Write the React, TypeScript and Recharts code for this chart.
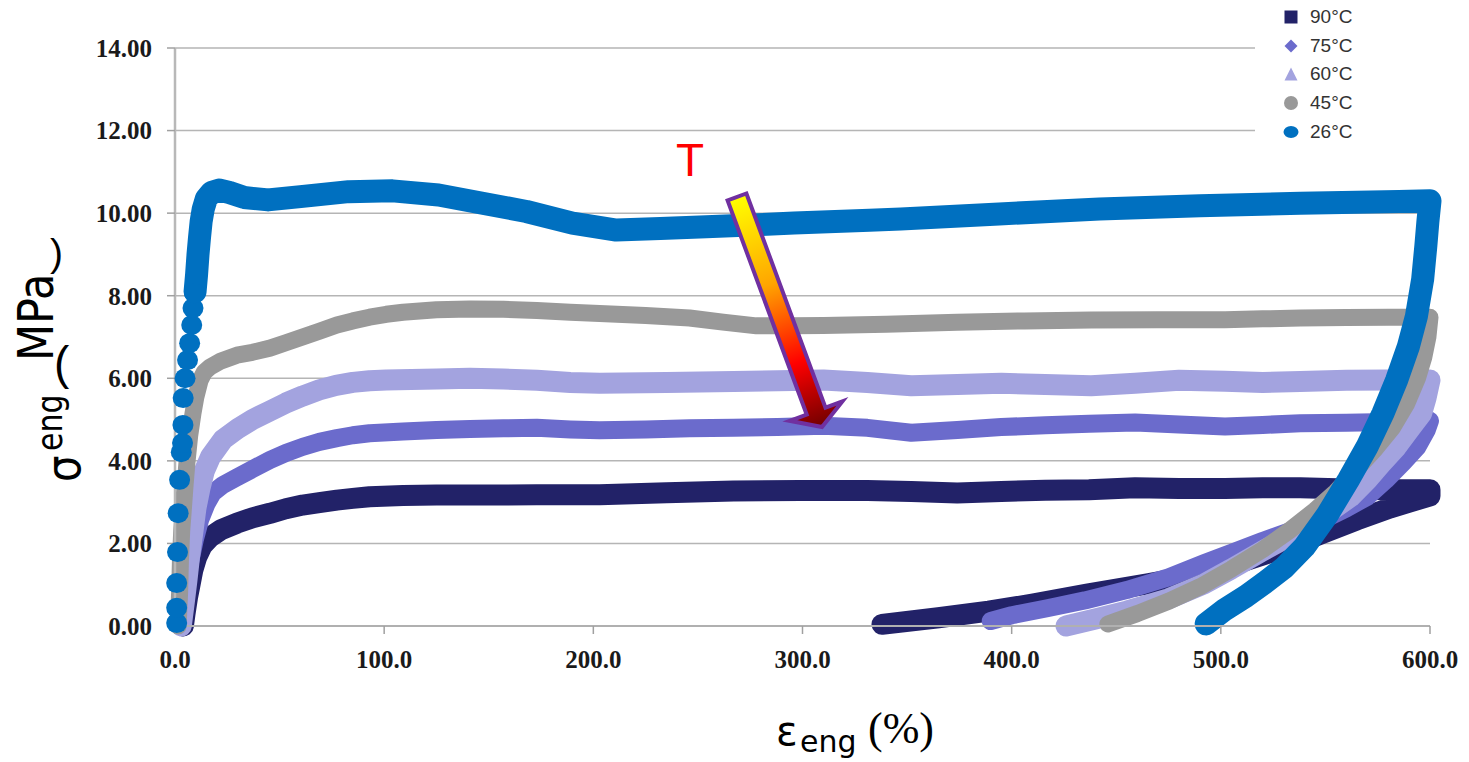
import React from 'react';
import { ComposedChart, Line, Scatter, XAxis, YAxis, CartesianGrid, Legend } from 'recharts';

// ---------- data ----------
const legendLabels = ['90°C', '75°C', '60°C', '45°C', '26°C'];
const seriesColors = ['#222268', '#6b6bcc', '#a3a3df', '#999999', '#0070c0'];
const markerShapes = ['square', 'diamond', 'triangle', 'circle', 'ellipse'];

const xTicks = [0, 100, 200, 300, 400, 500, 600];
const yTicks = [0, 2, 4, 6, 8, 10, 12, 14];

const strain90 = [4, 4.8, 6, 7, 8.5, 10.4, 13, 16.7, 22, 29.6, 37, 45.4, 53, 61, 69, 77.4, 85, 93, 109, 125, 141, 157, 173, 189, 203, 235, 267, 299, 331, 352, 374, 395, 416, 437, 459, 480, 502, 520, 538, 560, 580, 600,
  600, 590, 581, 565, 549, 535, 520, 505, 492, 465, 436, 410, 389, 365, 338];
const stress90 = [0, 0.3, 0.7, 0.95, 1.35, 1.67, 1.95, 2.15, 2.33, 2.49, 2.62, 2.73, 2.84, 2.93, 2.99, 3.05, 3.09, 3.13, 3.16, 3.17, 3.17, 3.17, 3.18, 3.18, 3.18, 3.23, 3.27, 3.28, 3.28, 3.26, 3.22, 3.26, 3.29, 3.3, 3.35, 3.33, 3.33, 3.35, 3.35, 3.32, 3.3, 3.3,
  3.15, 3.0, 2.86, 2.57, 2.25, 1.97, 1.72, 1.47, 1.27, 1.02, 0.77, 0.53, 0.36, 0.2, 0.04];

const strain75 = [3, 3.8, 5, 7, 9.5, 12, 15, 18, 23, 29.6, 37, 45.4, 53, 61, 69, 77.4, 85, 93, 109, 125, 141, 157, 173, 189, 203, 225, 246, 267, 288, 310, 331, 352, 374, 395, 416, 437, 459, 480, 502, 520, 538, 560, 580, 600,
  598.5, 594, 587, 579, 570, 560, 550, 535, 520, 505, 492, 475, 455, 435, 417, 400, 390];
const stress75 = [0, 0.3, 0.9, 1.5, 2.1, 2.57, 2.95, 3.22, 3.42, 3.6, 3.8, 4.02, 4.19, 4.34, 4.46, 4.55, 4.62, 4.67, 4.71, 4.75, 4.77, 4.79, 4.8, 4.76, 4.74, 4.76, 4.79, 4.8, 4.82, 4.85, 4.8, 4.68, 4.75, 4.82, 4.86, 4.9, 4.93, 4.88, 4.83, 4.87, 4.91, 4.92, 4.94, 4.97,
  4.75, 4.34, 3.95, 3.54, 3.13, 2.85, 2.6, 2.33, 2.06, 1.77, 1.52, 1.18, 0.87, 0.62, 0.43, 0.26, 0.12];

const strain60 = [3, 4.5, 5.7, 7, 8.6, 10, 12, 14, 17, 23, 30, 37, 45, 53, 61, 69, 77, 85, 93, 101, 125, 141, 157, 173, 189, 203, 235, 267, 288, 310, 331, 352, 374, 395, 416, 438, 459, 480, 502, 520, 538, 560, 580, 600,
  598, 596, 590, 584, 577, 570, 562, 550, 539, 520, 505, 492, 475, 455, 440, 426];
const stress60 = [0, 0.6, 1.1, 1.7, 2.3, 2.85, 3.35, 3.75, 4.1, 4.52, 4.78, 5.0, 5.2, 5.4, 5.57, 5.72, 5.83, 5.9, 5.94, 5.96, 5.98, 6.0, 5.98, 5.95, 5.9, 5.88, 5.9, 5.92, 5.94, 5.96, 5.9, 5.82, 5.85, 5.88, 5.85, 5.82, 5.88, 5.95, 5.93, 5.9, 5.92, 5.95, 5.96, 5.96,
  5.5, 5.15, 4.75, 4.34, 3.95, 3.54, 3.13, 2.7, 2.35, 1.82, 1.38, 1.02, 0.66, 0.36, 0.17, 0];

const strain45 = [1.5, 2.2, 2.6, 3.2, 3.8, 4.8, 5.7, 7, 8.6, 10, 12, 14, 16.7, 22, 29.6, 37, 45.4, 53, 61, 69, 77.4, 85, 93, 101, 109, 125, 141, 157, 173, 189, 203, 225, 246, 262, 278, 295, 310, 340, 374, 406, 438, 470, 502, 520, 538, 560, 580, 600,
  599, 597, 594, 589, 582, 574, 565, 555, 545, 533, 520, 505, 490, 475, 460, 446];
const stress45 = [0, 0.8, 1.6, 2.3, 2.7, 3.4, 3.95, 4.6, 5.15, 5.55, 5.95, 6.15, 6.27, 6.42, 6.56, 6.63, 6.73, 6.86, 7.0, 7.14, 7.29, 7.39, 7.48, 7.55, 7.6, 7.66, 7.68, 7.67, 7.64, 7.6, 7.57, 7.52, 7.46, 7.36, 7.27, 7.27, 7.28, 7.31, 7.36, 7.39, 7.41, 7.42, 7.42, 7.44, 7.46, 7.47, 7.48, 7.48,
  7.0, 6.5, 6.0, 5.4, 4.8, 4.3, 3.8, 3.25, 2.8, 2.32, 1.85, 1.38, 0.95, 0.6, 0.3, 0.05];

const riseStrain26 = [0.8, 0.8, 0.8, 1.2, 1.5, 2.2, 3.0, 3.6, 3.8, 3.9, 4.8, 6.0, 7.0, 8.0, 8.6, 9.4];
const riseStress26 = [0.07, 0.44, 1.04, 1.79, 2.73, 3.54, 4.21, 4.43, 4.87, 5.52, 6.0, 6.44, 6.85, 7.29, 7.7, 8.06];
const strain26 = [9.6, 10.3, 11, 11.7, 12.5, 13.5, 15, 17.5, 21, 26, 33, 44.5, 60, 83, 104, 126, 147, 168, 190, 211, 232, 254, 275, 296, 332, 347, 394, 442, 490, 538, 585, 600,
  599, 598, 596.5, 593.5, 589.6, 584, 577.5, 570, 561, 551, 540, 530, 521, 512, 502, 493];
const stress26 = [8.1, 8.5, 9.0, 9.4, 9.8, 10.1, 10.35, 10.5, 10.56, 10.5, 10.38, 10.32, 10.4, 10.52, 10.54, 10.44, 10.24, 10.04, 9.76, 9.59, 9.63, 9.67, 9.71, 9.76, 9.83, 9.86, 9.98, 10.1, 10.18, 10.24, 10.28, 10.3,
  9.8, 9.2, 8.4, 7.5, 6.76, 5.95, 5.15, 4.35, 3.54, 2.7, 1.92, 1.4, 1.05, 0.72, 0.4, 0.05];

const toPoints = (xs: number[], ys: number[]) => xs.map((x, i) => ({ x, y: ys[i] }));

const series = [
  { data: toPoints(strain90, stress90), width: 21 },
  { data: toPoints(strain75, stress75), width: 18 },
  { data: toPoints(strain60, stress60), width: 21 },
  { data: toPoints(strain45, stress45), width: 17 },
];
const rise26 = toPoints(riseStrain26, riseStress26);
const main26 = toPoints(strain26, stress26);

// ---------- legend ----------
const Marker = ({ shape, color }: { shape: string; color: string }) => {
  if (shape === 'square') return <rect x={1.5} y={1.5} width={13} height={13} fill={color} />;
  if (shape === 'diamond') return <polygon points="8,1.5 14.5,8 8,14.5 1.5,8" fill={color} />;
  if (shape === 'triangle') return <polygon points="8,1.5 14.5,14.5 1.5,14.5" fill={color} />;
  if (shape === 'circle') return <circle cx={8} cy={8} r={7} fill={color} />;
  return <ellipse cx={8} cy={8} rx={7.5} ry={6} fill={color} />;
};

const renderLegend = () => (
  <div style={{ width: 214, height: 150, background: '#ffffff', position: 'relative' }}>
    {legendLabels.map((label, i) => (
      <div key={label} style={{ position: 'absolute', left: 28, top: 17 + i * 28.7 - 11, height: 22, display: 'flex', alignItems: 'center' }}>
        <svg width={16} height={16} style={{ display: 'block' }}>
          <Marker shape={markerShapes[i]} color={seriesColors[i]} />
        </svg>
        <span style={{ marginLeft: 11, fontFamily: '"Liberation Sans", Arial, sans-serif', fontSize: 19, color: '#333333', lineHeight: '22px' }}>{label}</span>
      </div>
    ))}
  </div>
);

const tickFont = { fill: '#1a1a1a', fontSize: 25, fontWeight: 700, fontFamily: '"Liberation Serif", "Times New Roman", serif' };

export default function App() {
  return (
    <div style={{ position: 'absolute', left: 0, top: 0, width: 1469, height: 762, overflow: 'hidden', background: '#ffffff' }}>
      <ComposedChart width={1469} height={762} margin={{ top: 48, right: 39, left: 0, bottom: 0 }}>
        <CartesianGrid vertical={false} stroke="#b5b5b5" strokeWidth={1.5} />
        <XAxis
          dataKey="x"
          type="number"
          domain={[0, 600]}
          ticks={xTicks}
          interval={0}
          height={136}
          tickSize={8}
          tickMargin={16}
          tickFormatter={(v: number) => v.toFixed(1)}
          axisLine={{ stroke: '#b0b0b0', strokeWidth: 2 }}
          tickLine={{ stroke: '#a0a0a0', strokeWidth: 1.5 }}
          tick={tickFont}
        />
        <YAxis
          type="number"
          domain={[0, 14]}
          ticks={yTicks}
          interval={0}
          width={175}
          tickSize={8}
          tickMargin={15}
          tickFormatter={(v: number) => v.toFixed(2)}
          axisLine={{ stroke: '#b8b8b8', strokeWidth: 2.5 }}
          tickLine={{ stroke: '#a0a0a0', strokeWidth: 1.5 }}
          tick={tickFont}
        />
        <Legend layout="horizontal" verticalAlign="middle" align="center" content={renderLegend}
          wrapperStyle={{ top: 0, left: 1255, width: 214, height: 150 }} />
        {series.map((s, i) => (
          <Line
            key={legendLabels[i]}
            name={legendLabels[i]}
            data={s.data}
            dataKey="y"
            type="linear"
            stroke={seriesColors[i]}
            strokeWidth={s.width}
            strokeLinejoin="round"
            strokeLinecap="round"
            dot={false}
            activeDot={false}
            isAnimationActive={false}
          />
        ))}
        <Line
          name={legendLabels[4]}
          data={main26}
          dataKey="y"
          type="linear"
          stroke={seriesColors[4]}
          strokeWidth={23}
          strokeLinejoin="round"
          strokeLinecap="round"
          dot={false}
          activeDot={false}
          isAnimationActive={false}
        />
        <Scatter
          name="26°C rise"
          data={rise26}
          dataKey="y"
          fill={seriesColors[4]}
          isAnimationActive={false}
          shape={(p: any) => <ellipse cx={p.cx} cy={p.cy} rx={10.5} ry={10} fill={seriesColors[4]} />}
        />
      </ComposedChart>

      <svg width={1469} height={762} style={{ position: 'absolute', left: 0, top: 0, pointerEvents: 'none' }}>
        <defs>
          <linearGradient id="tArrow" gradientUnits="userSpaceOnUse" x1={737} y1={197} x2={822} y2={427}>
            <stop offset="0" stopColor="#ffff00" />
            <stop offset="0.38" stopColor="#ffa500" />
            <stop offset="0.72" stopColor="#ff0000" />
            <stop offset="1" stopColor="#700000" />
          </linearGradient>
        </defs>
        <polygon
          points="746.4,193.5 825.5,407.6 842.4,401.4 822,427 789.8,420.8 806.7,414.6 727.6,200.5"
          fill="url(#tArrow)"
          stroke="#7030a0"
          strokeWidth={4}
          strokeLinejoin="miter"
        />
        <text x={676} y={176} fill="#ff0000" fontSize={46} fontFamily='"Liberation Sans", Arial, sans-serif'>T</text>

        {/* y axis title */}
        <text transform="translate(80,482) rotate(-90) scale(1,1.15)" fontSize={42} fontFamily='"DejaVu Sans", Verdana, sans-serif' fill="#000">σ</text>
        <text transform="translate(62,451) rotate(-90) scale(1,1.2)" fontSize={30} fontFamily='"DejaVu Sans", Verdana, sans-serif' fill="#000">eng</text>
        <text x={54} y={379} fontSize={46} fontFamily='"Liberation Sans", Arial, sans-serif' fill="#000">(</text>
        <text transform="translate(53,361) rotate(-90) scale(1,1.15)" fontSize={43} fontFamily='"DejaVu Sans", Verdana, sans-serif' fill="#000">MPa</text>
        <text x={50} y={266} fontSize={39} fontFamily='"Liberation Sans", Arial, sans-serif' fill="#000">)</text>

        {/* x axis title */}
        <text x={776} y={745} fontSize={40} fontFamily='"DejaVu Sans", Verdana, sans-serif' fill="#000">ε</text>
        <text x={800} y={752} fontSize={30} fontFamily='"DejaVu Sans", Verdana, sans-serif' fill="#000">eng</text>
        <text x={868} y={743} fontSize={44} fontFamily='"Liberation Serif", "Times New Roman", serif' fill="#000">(%)</text>
      </svg>
    </div>
  );
}
